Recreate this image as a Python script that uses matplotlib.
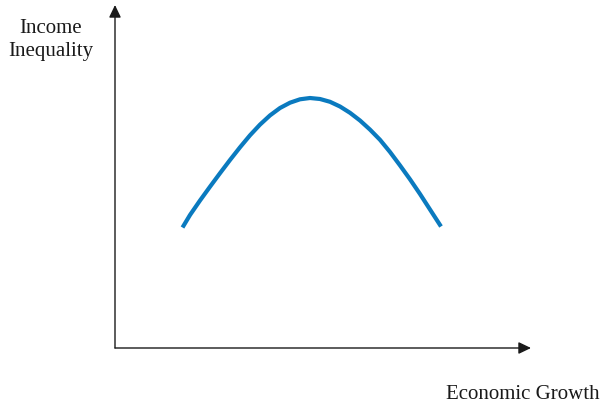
import matplotlib.pyplot as plt

growth = [67.5, 75, 85, 95, 105, 115, 125, 135, 145, 155, 165, 175, 185,
          195, 205, 215, 225, 235, 245, 255, 265, 275, 285, 295, 305, 315, 326]
inequality = [120.5, 133, 147.5, 161.3, 174.8, 188, 200.7, 212.7, 223.4, 232.6,
              240, 245.3, 248.7, 250, 249, 246.2, 241.5, 235.2, 227.5, 218.4,
              208.2, 196, 182.6, 168.7, 154, 138.5, 121.5]

x_label = "Economic Growth"
y_label = "Income\nInequality"

plt.rcParams['font.family'] = ['Liberation Serif', 'DejaVu Serif']

fig = plt.figure(figsize=(6.05, 4.05), dpi=100)
ax = fig.add_axes([0, 0, 1, 1])
ax.set_xlim(-115, 490)
ax.set_ylim(-57, 348)
ax.axis('off')

# Achsen als Pfeile
arrow = dict(arrowstyle='-|>,head_length=0.75,head_width=0.36', lw=1.0,
             color='#1a1a1a', shrinkA=0, shrinkB=0, mutation_scale=10)
ax.annotate('', xy=(0, 343), xytext=(0, 0), arrowprops=arrow)
ax.annotate('', xy=(416, 0), xytext=(0, 0), arrowprops=arrow)

# Kurve
ax.plot(growth, inequality, color='#0a7abf', lw=3.0, solid_capstyle='butt',
        solid_joinstyle='round')

fig.text(600 / 605, 1 - 399 / 405, x_label, ha='right', va='baseline',
         fontsize=15, color='#1a1a1a')
fig.text(51 / 605, 1 - 40 / 405, y_label, ha='center', va='center',
         fontsize=15, color='#1a1a1a', linespacing=1.25)

fig.savefig('out.png', dpi=100)
